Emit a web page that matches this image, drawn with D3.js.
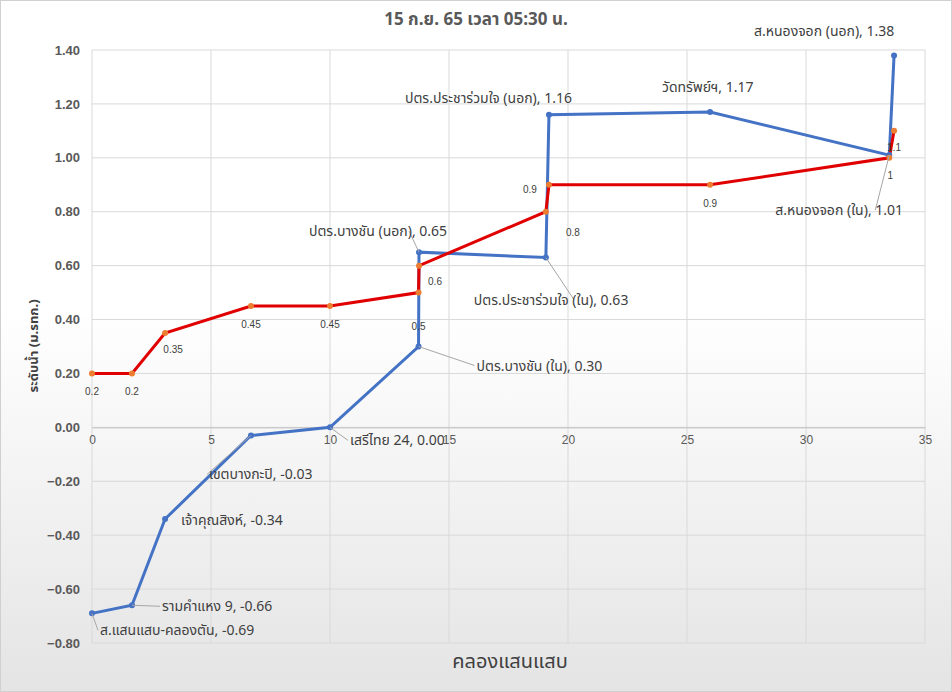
<!DOCTYPE html>
<html><head><meta charset="utf-8">
<script src="https://cdn.jsdelivr.net/npm/d3@7"></script>
<style>body{margin:0;background:#fff}text{font-family:"Noto Sans Thai","Noto Sans",Tahoma,sans-serif}</style>
</head><body><svg id="c" width="952" height="692"></svg>
<script>
const title = "15 ก.ย. 65 เวลา 05:30 น.";
const xTitle = "คลองแสนแสบ";
const yTitle = "ระดับน้ำ (ม.รทก.)";
const stationNames = ["ส.แสนแสบ-คลองตัน","รามคำแหง 9","เจ้าคุณสิงห์","เขตบางกะปิ","เสรีไทย 24","ปตร.บางชัน (ใน)","ปตร.บางชัน (นอก)","ปตร.ประชาร่วมใจ (ใน)","ปตร.ประชาร่วมใจ (นอก)","วัดทรัพย์ฯ","ส.หนองจอก (ใน)","ส.หนองจอก (นอก)"];
const distances = [0,1.68,3.07,6.68,10,13.72,13.74,19.07,19.2,25.97,33.5,33.7];
const waterLevels = [-0.69,-0.66,-0.34,-0.03,0.00,0.30,0.65,0.63,1.16,1.17,1.01,1.38];
const criticalLevels = [0.2,0.2,0.35,0.45,0.45,0.5,0.6,0.8,0.9,0.9,1,1.1];
const yTicks = [-0.8,-0.6,-0.4,-0.2,0,0.2,0.4,0.6,0.8,1.0,1.2,1.4];
const xTicks = [0,5,10,15,20,25,30,35];
// label layout: [dx,dy,anchor, leader?]
const blueLabelPos = [[8,22,"start",1],[30,6,"start",1],[16,6,"start",0],[-42,44,"start",1],[20,18,"start",1],[58,24,"start",1],[-110,-16,"start",1],[-72,47,"start",1],[-144,-12,"start",0],[-48,-20,"start",0],[-114,60,"start",1],[-140,-19,"start",0]];
const redLabelPos = [[0,22],[0,22],[8,20],[0,22],[0,22],[0,37],[16,19],[27,24],[-19,8],[0,22],[1,21],[0,20]];

const svg = d3.select("#c");
const defs = svg.append("defs");
const g0 = defs.append("linearGradient").attr("id","bg").attr("x1",0).attr("x2",0).attr("y1",0).attr("y2",1);
g0.append("stop").attr("offset","0%").attr("stop-color","#ffffff");
g0.append("stop").attr("offset","45%").attr("stop-color","#ffffff");
g0.append("stop").attr("offset","100%").attr("stop-color","#e4e4e4");
svg.append("rect").attr("x",0.5).attr("y",0.5).attr("width",951).attr("height",691).attr("fill","url(#bg)").attr("stroke","#d0d0d0");

const x = d3.scaleLinear().domain([0,35]).range([92,925]);
const y = d3.scaleLinear().domain([-0.8,1.4]).range([643,50]);

svg.append("g").selectAll("line").data(xTicks.slice(1)).join("line")
 .attr("x1",d=>x(d)).attr("x2",d=>x(d)).attr("y1",y(1.4)).attr("y2",y(-0.8)).attr("stroke","#d9d9d9");
svg.append("g").selectAll("line").data(yTicks).join("line")
 .attr("x1",x(0)).attr("x2",x(35)).attr("y1",d=>y(d)).attr("y2",d=>y(d)).attr("stroke","#d9d9d9");
svg.append("line").attr("x1",x(0)).attr("x2",x(0)).attr("y1",y(1.4)).attr("y2",y(-0.8)).attr("stroke","#d9d9d9");

const ya = svg.append("g").attr("transform",`translate(${x(0)},0)`).call(d3.axisLeft(y).tickValues(yTicks).tickFormat(d3.format(".2f")).tickSize(0).tickPadding(12));
ya.select(".domain").remove();
ya.selectAll("text").attr("font-size",13).attr("font-weight","bold").attr("fill","#595959").style("font-family","Liberation Sans, Arial");
const xa = svg.append("g").attr("transform",`translate(0,${y(0)})`).call(d3.axisBottom(x).tickValues(xTicks).tickSize(0).tickPadding(8));
xa.select(".domain").attr("stroke","#bfbfbf");
xa.selectAll("text").attr("font-size",12).attr("fill","#595959").style("font-family","Liberation Sans, Arial");

svg.append("text").attr("x",476).attr("y",25).attr("text-anchor","middle").attr("font-size",17).attr("font-weight","bold").attr("fill","#595959").text(title);
svg.append("text").attr("x",510).attr("y",668).attr("text-anchor","middle").attr("font-size",20).attr("fill","#404040").text(xTitle);
svg.append("text").attr("transform","translate(38,346) rotate(-90)").attr("text-anchor","middle").attr("font-size",13).attr("font-weight","bold").attr("fill","#404040").text(yTitle);

const blue = distances.map((d,i)=>({x:d,y:waterLevels[i],n:stationNames[i],p:blueLabelPos[i]}));
const red = distances.map((d,i)=>({x:d,y:criticalLevels[i],p:redLabelPos[i]}));
const line = d3.line().x(d=>x(d.x)).y(d=>y(d.y));
svg.append("path").datum(blue).attr("d",line).attr("fill","none").attr("stroke","#4472c4").attr("stroke-width",3);
svg.append("path").datum(red).attr("d",line).attr("fill","none").attr("stroke","#e00000").attr("stroke-width",3);
svg.append("g").selectAll("circle").data(blue).join("circle").attr("cx",d=>x(d.x)).attr("cy",d=>y(d.y)).attr("r",3).attr("fill","#4472c4");
svg.append("g").selectAll("circle").data(red).join("circle").attr("cx",d=>x(d.x)).attr("cy",d=>y(d.y)).attr("r",3).attr("fill","#ed7d31");

svg.append("g").selectAll("line").data(blue.filter(d=>d.p[3])).join("line")
 .attr("x1",d=>x(d.x)).attr("y1",d=>y(d.y)).attr("x2",d=>x(d.x)+d.p[0]+(d.p[0]<-60?100:-2)).attr("y2",d=>y(d.y)+d.p[1]-5)
 .attr("stroke","#a6a6a6").attr("stroke-width",1);
svg.append("g").selectAll("text").data(blue).join("text")
 .attr("x",d=>x(d.x)+d.p[0]).attr("y",d=>y(d.y)+d.p[1]).attr("text-anchor",d=>d.p[2])
 .attr("font-size",14).attr("fill","#404040").text(d=>`${d.n}, ${d3.format(".2f")(d.y)}`);
svg.append("g").selectAll("text").data(red).join("text")
 .attr("x",d=>x(d.x)+d.p[0]).attr("y",d=>y(d.y)+d.p[1]).attr("text-anchor","middle")
 .attr("font-size",10).attr("fill","#404040").style("font-family","Liberation Sans, Arial").text(d=>d.y);
</script></body></html>
